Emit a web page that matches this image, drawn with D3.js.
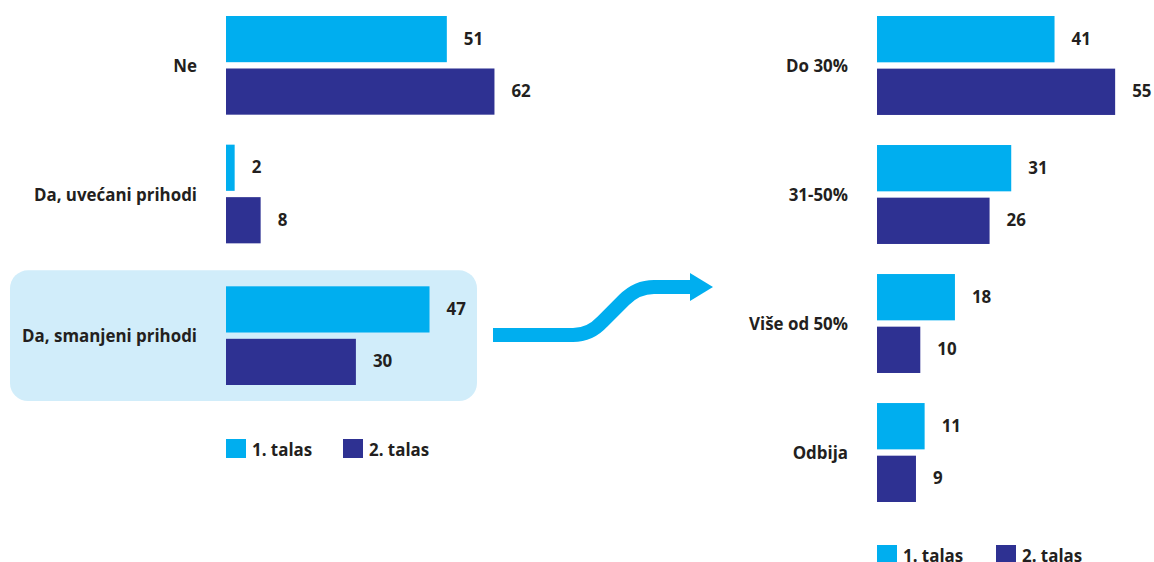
<!DOCTYPE html>
<html>
<head>
<meta charset="utf-8">
<script src="https://cdn.jsdelivr.net/npm/d3@7"></script>
<style>
  html, body { margin: 0; padding: 0; background: #fff; }
  svg { display: block; }
  text { font-family: "Open Sans", sans-serif; font-weight: 700; fill: #231f20; }
</style>
</head>
<body>
<svg id="chart" width="1154" height="562"></svg>
<script>
// ---- data ----
const series = ["1. talas", "2. talas"];
const leftCategories = ["Ne", "Da, uvećani prihodi", "Da, smanjeni prihodi"];
const leftWave1 = [51, 2, 47];
const leftWave2 = [62, 8, 30];
const highlighted = "Da, smanjeni prihodi";

const rightCategories = ["Do 30%", "31-50%", "Više od 50%", "Odbija"];
const rightWave1 = [41, 31, 18, 11];
const rightWave2 = [55, 26, 10, 9];

// ---- styles ----
const colors = { "1. talas": "#00aeef", "2. talas": "#2e3192" };
const fontSize = 16.9;

const svg = d3.select("#chart");
const color = d3.scaleOrdinal().domain(series).range(series.map(s => colors[s]));

function drawPanel(opts) {
  const { categories, w1, w2, x0, labelX, yTop, yBottom, highlight, highlightOffset } = opts;
  const data = categories.map((c, i) => ({ cat: c, values: [
    { s: series[0], v: w1[i] }, { s: series[1], v: w2[i] } ] }));

  const x = d3.scaleLinear().domain([0, 100]).range([x0, x0 + 433]);
  const y = d3.scaleBand().domain(categories).range([yTop, yBottom]).paddingInner(0.233).paddingOuter(0);
  const yIn = d3.scaleBand().domain(series).range([0, y.bandwidth()]).paddingInner(0.12);

  const g = svg.append("g");
  const gy = c => y(c) + (c === highlight ? highlightOffset : 0);

  if (highlight) {
    g.append("rect")
      .attr("x", 10).attr("y", gy(highlight) - 16)
      .attr("width", 467).attr("height", y.bandwidth() + 32)
      .attr("rx", 18).attr("fill", "#d1edfa");
  }

  const grp = g.selectAll("g.grp").data(data).enter().append("g")
    .attr("class", "grp")
    .attr("transform", d => `translate(0,${gy(d.cat)})`);

  grp.append("text")
    .attr("x", labelX)
    .attr("y", y.bandwidth() / 2 + 2)
    .attr("text-anchor", "end")
    .attr("dominant-baseline", "middle")
    .attr("font-size", fontSize)
    .text(d => d.cat);

  grp.selectAll("rect").data(d => d.values).enter().append("rect")
    .attr("x", x(0))
    .attr("y", d => yIn(d.s))
    .attr("width", d => x(d.v) - x(0))
    .attr("height", yIn.bandwidth())
    .attr("fill", d => color(d.s));

  grp.selectAll("text.val").data(d => d.values).enter().append("text")
    .attr("class", "val")
    .attr("x", d => x(d.v) + 17)
    .attr("y", d => yIn(d.s) + yIn.bandwidth() / 2 + 1)
    .attr("dominant-baseline", "middle")
    .attr("font-size", fontSize)
    .text(d => d.v);

  return { x, y };
}

function drawLegend(x0, yTop, gap) {
  const lg = svg.append("g").attr("transform", `translate(${x0},${yTop})`);
  const item = lg.selectAll("g").data(series).enter().append("g")
    .attr("transform", (d, i) => `translate(${i * gap},0)`);
  item.append("rect").attr("width", 20).attr("height", 19).attr("fill", d => color(d));
  item.append("text").attr("x", 26).attr("y", 17).attr("font-size", fontSize).text(d => d);
}

drawPanel({ categories: leftCategories, w1: leftWave1, w2: leftWave2,
  x0: 226, labelX: 197, yTop: 16, yBottom: 372, highlight: highlighted, highlightOffset: 13 });
drawPanel({ categories: rightCategories, w1: rightWave1, w2: rightWave2,
  x0: 877, labelX: 848, yTop: 16, yBottom: 502 });

drawLegend(226, 439, 117);
drawLegend(877, 545, 119);

// arrow
svg.append("path")
  .attr("d", "M493,335 H573 Q590,335 602,322 L624,300 Q637,287 654,287 H692")
  .attr("fill", "none").attr("stroke", "#00aeef").attr("stroke-width", 14);
svg.append("path")
  .attr("d", "M690,273 L713,287 L690,301 Z")
  .attr("fill", "#00aeef");
</script>
</body>
</html>
